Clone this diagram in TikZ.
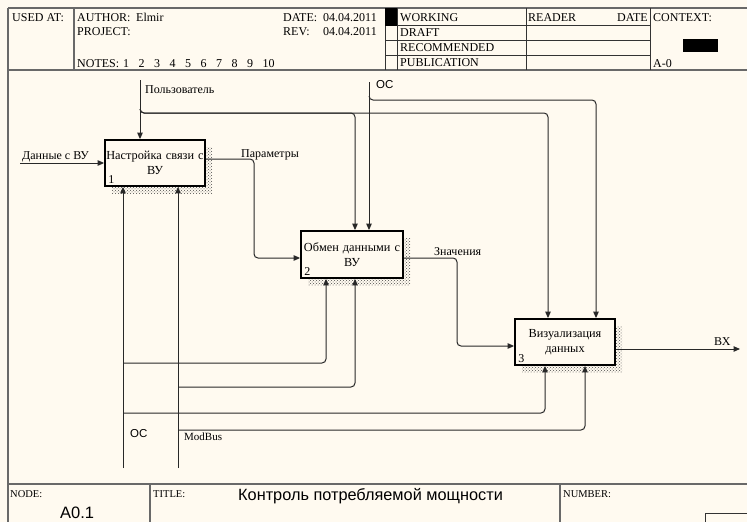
\documentclass[tikz,border=0pt]{standalone}
\usepackage{fontspec}
\setmainfont{Liberation Serif}
\newfontfamily\arialf{Liberation Sans}
\usetikzlibrary{arrows.meta,shadows,patterns,calc}
\definecolor{bgc}{RGB}{255,250,240}
\definecolor{framec}{RGB}{105,105,105}
\definecolor{linec}{RGB}{40,40,40}
\begin{document}
\begin{tikzpicture}[x=1pt,y=-1pt,
  frame/.style={draw=framec, line width=1.6pt},
  thinframe/.style={draw=black!80, line width=1pt},
  hdr/.style={inner sep=0pt, anchor=base west, font=\fontsize{12}{14}\selectfont},
  lbl/.style={inner sep=0pt, anchor=base west, font=\fontsize{12}{14}\selectfont},
  slbl/.style={inner sep=0pt, anchor=base west, font=\arialf\fontsize{11.5}{13}\selectfont},
  ftr/.style={inner sep=0pt, anchor=base west, font=\fontsize{10.5}{12}\selectfont},
  procbox/.style={draw=black, line width=1.8pt, fill=bgc, minimum width=100pt, minimum height=46pt,
    inner sep=1pt, align=center, text width=98pt, font=\fontsize{12.3}{15.5}\selectfont,
    drop shadow={shadow xshift=7pt, shadow yshift=-7pt, opacity=1, pattern=crosshatch dots, pattern color=black!70}},
  numlbl/.style={inner sep=0pt, anchor=base west, font=\fontsize{12}{14}\selectfont},
  arr/.style={draw=linec, line width=1pt, -{Triangle[length=6.5pt,width=5.5pt]}},
  rc/.style={rounded corners=4pt}
]
\useasboundingbox (0,0) rectangle (747,522);
\fill[bgc] (0,0) rectangle (747,522);

% ---------- header ----------
\draw[frame] (8,8) -- (747,8);
\draw[frame] (8,70) -- (747,70);
\draw[frame] (8,8) -- (8,522);
\draw[frame] (74,8) -- (74,70);
\draw[thinframe] (385,8) -- (385,70);
\draw[thinframe] (397,8) -- (397,70);
\draw[thinframe] (526,8) -- (526,70);
\draw[thinframe] (650,8) -- (650,70);
\foreach \yy in {25.5,40.5,55.5} \draw[thinframe] (385,\yy) -- (650,\yy);
\fill[black] (385,8) rectangle (397,25.5);
\fill[black] (683,39) rectangle (718,52);

\node[hdr] (usedat) at (12,21) {USED AT:};
\node[hdr] (author) at (77,21) {AUTHOR:};
\node[hdr] (elmir) at (136,21) {Elmir};
\node[hdr] (project) at (77,35) {PROJECT:};
\node[hdr] (notes) at (77,67) {NOTES:\hspace{4pt}1\hspace{9.5pt}2\hspace{9.5pt}3\hspace{9.5pt}4\hspace{9.5pt}5\hspace{9.5pt}6\hspace{9.5pt}7\hspace{9.5pt}8\hspace{9.5pt}9\hspace{9.5pt}10};
\node[hdr] (date) at (283,21) {DATE:};
\node[hdr] (dateval) at (323,21) {04.04.2011};
\node[hdr] (rev) at (283,35) {REV:};
\node[hdr] (revval) at (323,35) {04.04.2011};
\node[hdr] (working) at (400,21) {WORKING};
\node[hdr] (draft) at (400,36) {DRAFT};
\node[hdr] (recom) at (400,51) {RECOMMENDED};
\node[hdr] (public) at (400,66) {PUBLICATION};
\node[hdr] (reader) at (528,21) {READER};
\node[hdr, anchor=base east] (rdate) at (648,21) {DATE};
\node[hdr] (context) at (653,21) {CONTEXT:};
\node[hdr] (azero) at (653,67) {A-0};

% ---------- footer ----------
\draw[frame] (8,484) -- (747,484);
\draw[frame] (150,484) -- (150,522);
\draw[frame] (560,484) -- (560,522);
\draw[thinframe] (705,522) -- (705,513) -- (747,513);
\node[ftr] (nodelbl) at (10,497) {NODE:};
\node[ftr] (titlelbl) at (153,497) {TITLE:};
\node[ftr] (numlbl) at (563,497) {NUMBER:};
\node[inner sep=0pt, anchor=base west, font=\arialf\fontsize{16.3}{18}\selectfont] (title) at (238,500) {Контроль потребляемой мощности};
\node[inner sep=0pt, anchor=base west, font=\arialf\fontsize{16.5}{18}\selectfont] (nodeid) at (60,518) {A0.1};

% ---------- boxes ----------
\node[procbox] (b1) at (155,163) {Настройка связи с\\ВУ};
\node[procbox, minimum width=102pt, minimum height=47pt] (b2) at (352,254.5) {Обмен данными с\\ВУ};
\node[procbox] (b3) at (565,342) {Визуализация\\данных};
\node[numlbl] (n1) at ([xshift=4pt,yshift=3pt]b1.south west) {1};
\node[numlbl] (n2) at ([xshift=4pt,yshift=3pt]b2.south west) {2};
\node[numlbl] (n3) at ([xshift=4pt,yshift=3pt]b3.south west) {3};

% ---------- free ends and bends ----------
\coordinate (inL) at (20,163);
\coordinate (userT) at (140,80);
\coordinate (uj) at (140,113);
\coordinate (u2) at (355,113);
\coordinate (u3) at (548,113);
\coordinate (osT) at (369,82);
\coordinate (oj) at (369,100);
\coordinate (o3) at (596,100);
\coordinate (pc) at (254,0);
\coordinate (zc) at (457,0);
\coordinate (outR) at (740,349);
\coordinate (m1) at (123,468);
\coordinate (m2) at (178,468);
\coordinate (r1) at (326,363);
\coordinate (r2) at (355,387);
\coordinate (r3) at (545,413);
\coordinate (r4) at (585,430);
\coordinate (p1) at ([yshift=4pt]b1.east);
\coordinate (p2) at ([yshift=-3.5pt]b2.west);
\coordinate (z1) at ([yshift=-3.5pt]b2.east);
\coordinate (z2) at ([yshift=-4pt]b3.west);
\coordinate (v1) at ([yshift=-7pt]b3.east);

% ---------- connectors ----------
\draw[arr] (inL) -- (b1.west);
\draw[arr] (userT) -- (userT |- b1.north);
\draw[arr, rc] ([yshift=4pt]uj) -- (uj) -- (u2) -- (u2 |- b2.north);
\draw[arr, rc] ([yshift=4pt]uj) -- (uj) -- (u3) -- (u3 |- b3.north);
\draw[arr] (osT) -- (osT |- b2.north);
\draw[arr, rc] ([yshift=4pt]oj) -- (oj) -- (o3) -- (o3 |- b3.north);
\draw[arr, rc] (p1) -| (pc |- p2) -- (p2);
\draw[arr, rc] (z1) -| (zc |- z2) -- (z2);
\draw[arr] (v1) -- (outR);
\draw[arr] (m1) -- (m1 |- b1.south);
\draw[arr] (m2) -- (m2 |- b1.south);
\draw[arr, rc] (m1 |- r1) -- (r1) -- (r1 |- b2.south);
\draw[arr, rc] (m2 |- r2) -- (r2) -- (r2 |- b2.south);
\draw[arr, rc] (m1 |- r3) -- (r3) -- (r3 |- b3.south);
\draw[arr, rc] (m2 |- r4) -- (r4) -- (r4 |- b3.south);

% ---------- labels ----------
\node[lbl] (lin) at (22,159) {Данные с ВУ};
\node[lbl] (luser) at (145,93) {Пользователь};
\node[slbl] (losT) at (376,88) {ОС};
\node[lbl] (lpar) at (241,157) {Параметры};
\node[lbl] (lzn) at (434,255) {Значения};
\node[lbl] (lvx) at (714,345) {ВХ};
\node[slbl] (losB) at (130,437) {ОС};
\node[lbl, font=\fontsize{11}{13}\selectfont] (lmod) at (184,440) {ModBus};
\end{tikzpicture}
\end{document}
